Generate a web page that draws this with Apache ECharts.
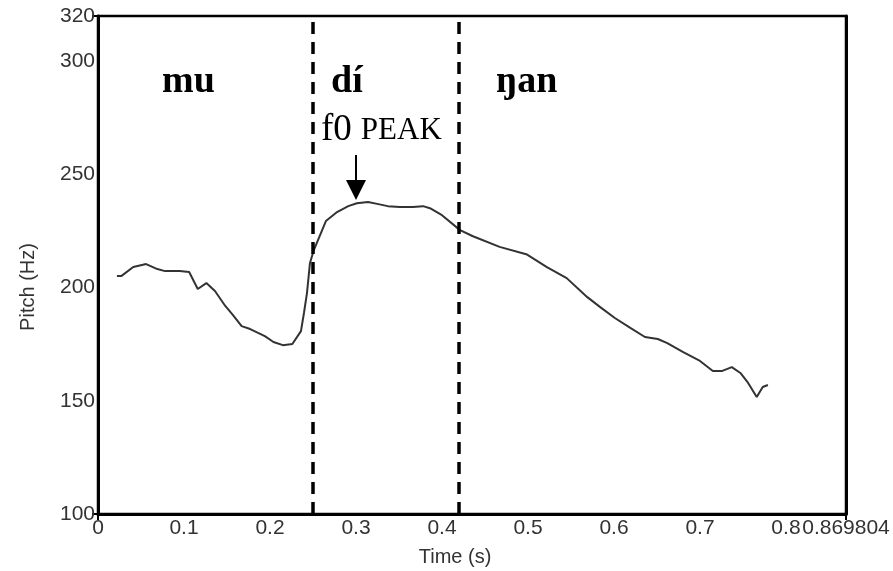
<!DOCTYPE html>
<html><head><meta charset="utf-8">
<script src="https://cdn.jsdelivr.net/npm/echarts@6/dist/echarts.min.js"></script>
<style>html,body{margin:0;padding:0;background:#fff}#c{width:893px;height:571px}</style>
</head><body><div id="c"></div>
<script>
const timeS = [0.022,0.027,0.041,0.056,0.069,0.078,0.095,0.106,0.116,0.126,0.136,0.148,0.157,0.167,0.177,0.194,0.204,0.215,0.226,0.236,0.2395,0.243,0.2465,0.251,0.265,0.278,0.291,0.301,0.314,0.326,0.337,0.351,0.366,0.378,0.386,0.400,0.421,0.436,0.467,0.499,0.522,0.545,0.569,0.584,0.601,0.619,0.636,0.651,0.662,0.680,0.700,0.715,0.726,0.737,0.747,0.756,0.766,0.773,0.779];
const pitchHz = [205.1,205.1,209.1,210.4,208.2,207.3,207.3,206.9,199.4,202.0,198.5,191.9,187.9,183.0,181.7,178.6,176.0,174.6,175.1,180.8,188.8,197.6,210.9,216.6,229.4,233.4,236.0,237.3,237.8,236.9,236.0,235.6,235.6,236.0,235.1,232.0,225.4,222.7,218.0,214.6,209.1,204.2,195.8,191.4,186.6,182.2,178.2,177.3,175.5,171.6,167.6,163.2,163.2,164.9,162.3,157.9,151.7,156.1,157.0];
const boundaries = [0.25, 0.421];
const peakTime = 0.3;
const arrowFrom = 258.6, arrowTo = 243.1;
const xMax = 0.869804;
const yMin = 100, yMax = 320;
const syllables = ['mu', 'dí', 'ŋan'];

const chart = echarts.init(document.getElementById('c'), null, {renderer:'canvas'});
const sans = 'Liberation Sans, Arial, sans-serif';
const labelFont = {fontFamily:sans, fontSize:21, color:'#333'};
const serif = 'Liberation Serif, Times New Roman, serif';
chart.setOption({
  animation:false,
  grid:{left:98, right:47, top:16, bottom:57, show:true, borderColor:'#000', borderWidth:2.5, backgroundColor:'#fff', containLabel:false, outerBoundsMode:'none'},
  xAxis:[{type:'value', min:0, max:xMax, interval:0.1,
    name:'Time (s)', nameLocation:'middle', nameGap:33,
    nameTextStyle:{fontFamily:sans, fontSize:20, color:'#333', padding:[0,34,0,0]},
    axisLine:{show:true, lineStyle:{color:'#000', width:3}},
    axisTick:{show:true, customValues:[0, xMax], length:6, lineStyle:{color:'#000', width:2}},
    axisLabel:Object.assign({margin:4, formatter:v=>String(+v.toFixed(6))}, labelFont),
    splitLine:{show:true, lineStyle:{color:'#b5b5b5', width:1.5}}}],
  yAxis:[{type:'value', min:yMin, max:yMax, interval:50,
    name:'Pitch (Hz)', nameLocation:'middle', nameGap:60,
    nameTextStyle:{fontFamily:sans, fontSize:20, color:'#333', padding:[0,44,0,0]},
    axisLine:{show:true, lineStyle:{color:'#000', width:3}},
    axisTick:{show:true, customValues:[yMin, yMax], length:6, lineStyle:{color:'#000', width:2}},
    axisLabel:Object.assign({margin:3}, labelFont),
    splitLine:{show:false}},
    {type:'value', position:'right', min:yMin, max:yMax, z:5,
    axisLine:{show:true, lineStyle:{color:'#000', width:3}},
    axisTick:{show:false}, axisLabel:{show:false}, splitLine:{show:false}}],
  series:[{
    type:'line', data:timeS.map((t,i)=>[t,pitchHz[i]]), showSymbol:false, symbol:'none',
    lineStyle:{color:'#333', width:2}, smooth:false,
    markLine:{silent:true, animation:false, label:{show:false}, symbol:['none','none'],
      data:[
        {xAxis:boundaries[0], lineStyle:{color:'#000', width:3.5, type:[12,8]}},
        {xAxis:boundaries[1], lineStyle:{color:'#000', width:3.5, type:[12,8]}},
        [{coord:[peakTime, arrowFrom], symbol:'none', lineStyle:{color:'#000', width:2, type:'solid'}},
         {coord:[peakTime, arrowTo], symbol:'triangle', symbolSize:[20,20], symbolRotate:180}]
      ]}
  }],
  graphic:[
    {type:'text', left:162, top:63, style:{text:syllables[0], font:'bold 38px '+serif, fill:'#000'}},
    {type:'text', left:331, top:63, style:{text:syllables[1], font:'bold 38px '+serif, fill:'#000'}},
    {type:'text', left:496, top:63, style:{text:syllables[2], font:'bold 38px '+serif, fill:'#000'}},
    {type:'text', left:321, top:112, style:{text:'{a|f0}{b|PEAK}', rich:{a:{fontFamily:serif, fontSize:37, fill:'#000'}, b:{fontFamily:serif, fontSize:31, fill:'#000', padding:[0,0,0,9]}}}}
  ]
});
</script></body></html>
